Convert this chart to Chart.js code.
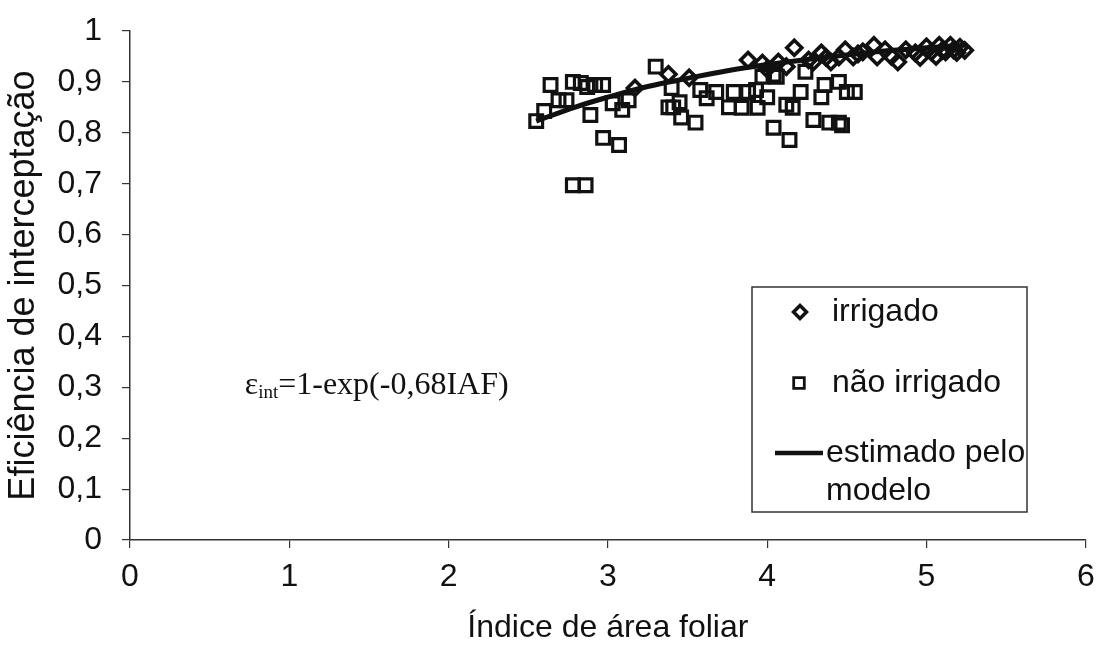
<!DOCTYPE html>
<html>
<head>
<meta charset="utf-8">
<script src="https://cdn.jsdelivr.net/npm/chart.js@4.4.1/dist/chart.umd.min.js"></script>
<style>
  html, body { margin: 0; padding: 0; background: #fff; }
  #wrap { width: 1098px; height: 647px; position: relative; }
</style>
</head>
<body>
<div id="wrap"><canvas id="eficiencia"></canvas></div>
<script>
// irrigado (losangos)
var irrigadoIAF = [3.17, 3.38, 3.51, 3.88, 3.97, 4.00, 4.07, 4.12, 4.17, 4.26, 4.29, 4.34, 4.37, 4.40, 4.45, 4.49,
  4.54, 4.57, 4.60, 4.67, 4.69, 4.74, 4.78, 4.82, 4.87, 4.93, 4.96, 5.00, 5.03, 5.06, 5.08, 5.10, 5.12, 5.15, 5.17, 5.19, 5.21, 5.24];
var irrigadoEff = [0.888, 0.915, 0.908, 0.943, 0.937, 0.925, 0.939, 0.930, 0.967, 0.943, 0.939, 0.957, 0.948, 0.939, 0.949, 0.963,
  0.949, 0.955, 0.959, 0.972, 0.949, 0.963, 0.950, 0.939, 0.963, 0.957, 0.948, 0.969, 0.959, 0.950, 0.972, 0.962, 0.959, 0.972, 0.963, 0.958, 0.968, 0.962];

// não irrigado (quadrados)
var naoIrrigadoIAF = [2.55, 2.60, 2.64, 2.69, 2.74, 2.78, 2.83, 2.87, 2.92, 2.97, 2.89, 2.97, 3.07, 2.78, 2.86, 3.09, 3.03, 3.13,
  3.30, 3.38, 3.40, 3.45, 3.41, 3.46, 3.55, 3.58, 3.62, 3.68, 3.76, 3.79, 3.84, 3.88, 3.94, 3.93, 4.00, 3.97, 4.04, 4.06, 4.04,
  4.14, 4.12, 4.16, 4.21, 4.29, 4.24, 4.36, 4.45, 4.34, 4.50, 4.55, 4.39, 4.45, 4.47];
var naoIrrigadoEff = [0.823, 0.843, 0.894, 0.864, 0.864, 0.900, 0.898, 0.890, 0.894, 0.894, 0.835, 0.790, 0.776, 0.697, 0.697, 0.845, 0.858, 0.864,
  0.930, 0.850, 0.888, 0.860, 0.850, 0.830, 0.820, 0.884, 0.868, 0.880, 0.850, 0.880, 0.849, 0.880, 0.849, 0.884, 0.870, 0.910, 0.914, 0.910, 0.810,
  0.786, 0.855, 0.849, 0.880, 0.825, 0.920, 0.894, 0.900, 0.870, 0.880, 0.880, 0.820, 0.820, 0.815];

// estimado pelo modelo
var modeloIAF = [2.55, 2.8, 3.0, 3.25, 3.5, 3.75, 4.0, 4.25, 4.5, 4.75, 5.0, 5.24];
var modeloEff = [0.823, 0.851, 0.870, 0.891, 0.907, 0.922, 0.934, 0.944, 0.953, 0.961, 0.967, 0.972];

var xTicks = [0, 1, 2, 3, 4, 5, 6];
var yTicks = [0, 0.1, 0.2, 0.3, 0.4, 0.5, 0.6, 0.7, 0.8, 0.9, 1];

function pares(xs, ys) {
  return xs.map(function (x, i) { return { x: x, y: ys[i] }; });
}

function virgula(v) {
  var r = Math.round(v * 10) / 10;
  if (r === 0 || r === 1) return String(r);
  return r.toFixed(1).replace('.', ',');
}

var fonte = '"Liberation Sans", Arial, sans-serif';
var serifa = '"Liberation Serif", "Times New Roman", serif';
var tinta = '#111';

// equação e legenda desenhadas por cima do gráfico
var extras = {
  id: 'extras',
  afterDraw: function (chart) {
    var ctx = chart.ctx;
    var xs = chart.scales.x, ys = chart.scales.y;
    ctx.save();

    // equação
    var ex = xs.getPixelForValue(0.72), ey = ys.getPixelForValue(0.287);
    ctx.fillStyle = tinta;
    ctx.textBaseline = 'alphabetic';
    ctx.textAlign = 'left';
    ctx.font = '32px ' + serifa;
    ctx.fillText('\u03b5', ex, ey);
    var w = ctx.measureText('\u03b5').width;
    ctx.font = '19px ' + serifa;
    ctx.fillText('int', ex + w, ey + 4);
    var w2 = ctx.measureText('int').width;
    ctx.font = '32px ' + serifa;
    ctx.fillText('=1-exp(-0,68IAF)', ex + w + w2, ey);

    // legenda
    var L = 752, T = 287, R = 1027, B = 512;
    ctx.strokeStyle = '#333';
    ctx.lineWidth = 1.5;
    ctx.strokeRect(L, T, R - L, B - T);

    var ds = chart.data.datasets;
    ctx.font = '32px ' + fonte;
    ctx.textBaseline = 'middle';

    ctx.strokeStyle = tinta;
    ctx.fillStyle = 'rgba(0,0,0,0)';
    ctx.lineWidth = 3.5;
    Chart.helpers.drawPoint(ctx, { pointStyle: 'rectRot', radius: 6.5, borderWidth: 3.5, rotation: 0 }, 800, 312);
    ctx.lineWidth = 2.8;
    Chart.helpers.drawPoint(ctx, { pointStyle: 'rect', radius: 7.5, borderWidth: 2.8, rotation: 0 }, 799, 383);

    ctx.lineWidth = 4.5;
    ctx.beginPath();
    ctx.moveTo(775, 453);
    ctx.lineTo(823, 453);
    ctx.stroke();

    ctx.fillStyle = tinta;
    ctx.fillText(ds[0].label, 832, 312);
    ctx.fillText(ds[1].label, 832, 383);
    ctx.fillText('estimado pelo', 826, 453);
    ctx.fillText('modelo', 826, 491);

    ctx.restore();
  }
};

new Chart(document.getElementById('eficiencia').getContext('2d'), {
  type: 'scatter',
  data: {
    datasets: [
      {
        label: 'irrigado',
        data: pares(irrigadoIAF, irrigadoEff),
        pointStyle: 'rectRot',
        pointRadius: 7.5,
        borderWidth: 3.6,
        borderColor: tinta,
        backgroundColor: 'rgba(255,255,255,0)'
      },
      {
        label: 'não irrigado',
        data: pares(naoIrrigadoIAF, naoIrrigadoEff),
        pointStyle: 'rect',
        pointRadius: 9,
        borderWidth: 3.2,
        borderColor: tinta,
        backgroundColor: 'rgba(255,255,255,0)'
      },
      {
        label: 'estimado pelo modelo',
        type: 'line',
        data: pares(modeloIAF, modeloEff),
        borderColor: tinta,
        borderWidth: 5,
        pointRadius: 0,
        tension: 0.4,
        fill: false
      }
    ]
  },
  options: {
    responsive: true,
    maintainAspectRatio: false,
    animation: false,
    layout: { padding: { left: 0, right: 4, top: 31, bottom: 0 } },
    plugins: {
      legend: { display: false },
      tooltip: { enabled: false }
    },
    scales: {
      x: {
        type: 'linear',
        min: 0,
        max: 6,
        afterFit: function (s) { s.height = 107; s.paddingRight = 0; },
        afterBuildTicks: function (s) { s.ticks = xTicks.map(function (v) { return { value: v }; }); },
        border: { color: '#333', width: 1.5 },
        grid: { drawOnChartArea: false, drawTicks: true, tickLength: 8, color: '#333', lineWidth: 1.2 },
        ticks: {
          color: tinta,
          font: { family: fonte, size: 32 },
          padding: 10,
          maxRotation: 0,
          callback: function (v) { return String(v); }
        },
        title: {
          display: true,
          text: 'Índice de área foliar',
          color: tinta,
          font: { family: fonte, size: 32 },
          padding: { top: 0, bottom: 0 }
        }
      },
      y: {
        type: 'linear',
        min: 0,
        max: 1,
        afterFit: function (s) { s.width = 130; s.paddingTop = 0; s.paddingBottom = 0; },
        afterBuildTicks: function (s) { s.ticks = yTicks.map(function (v) { return { value: v }; }); },
        border: { color: '#333', width: 1.5 },
        grid: { drawOnChartArea: false, drawTicks: true, tickLength: 8, color: '#333', lineWidth: 1.2 },
        ticks: {
          color: tinta,
          font: { family: fonte, size: 32 },
          padding: 20,
          callback: function (v) { return virgula(v); }
        },
        title: {
          display: true,
          text: 'Eficiência de interceptação',
          color: tinta,
          font: { family: fonte, size: 36 },
          padding: { top: 2, bottom: 0 }
        }
      }
    }
  },
  plugins: [extras]
});
</script>
</body>
</html>
